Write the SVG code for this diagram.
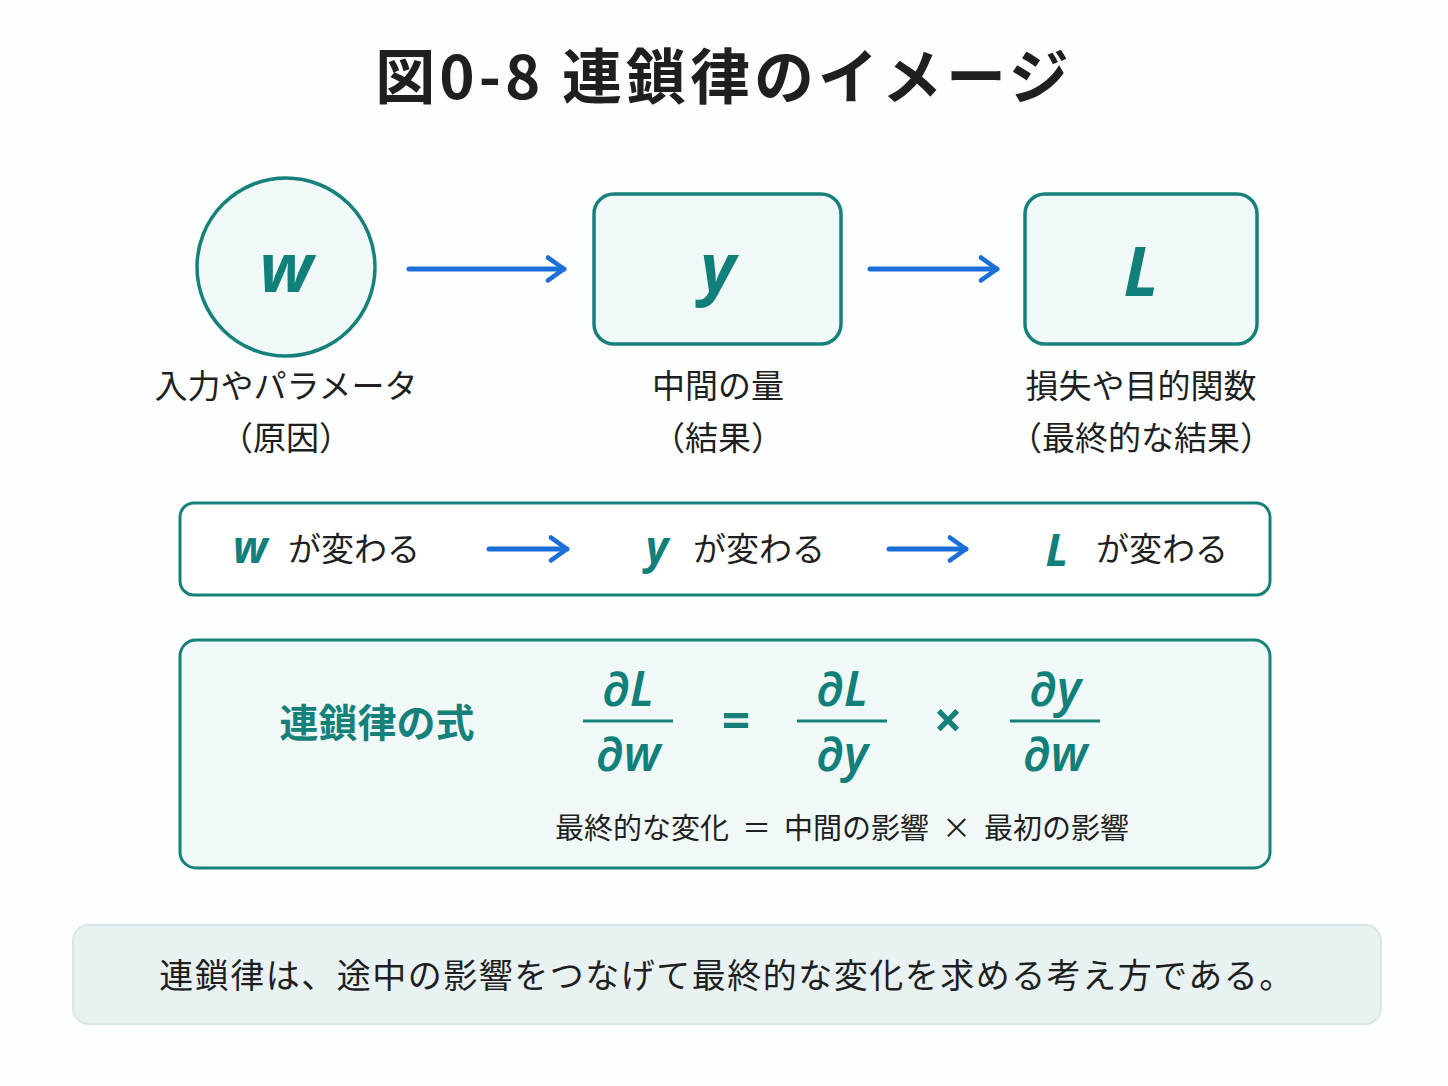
<svg xmlns="http://www.w3.org/2000/svg" width="1448" height="1086" viewBox="0 0 1448 1086">
<style>
.jp{font-family:"Noto Sans CJK JP","Noto Sans",sans-serif;fill:#1f1f1f}
.var{font-family:"Noto Sans","Open Sans",sans-serif;font-style:italic;font-weight:bold;fill:#11807a}
.math{font-family:"Noto Sans","Open Sans",sans-serif;font-style:italic;font-weight:600;fill:#11807a}
.node{fill:#f1f8f8;stroke:#15817a;stroke-width:3.5}
.arr{stroke:#1a6fd8;stroke-width:5;stroke-linecap:round;fill:none}
</style>
<defs>
<marker id="ah" viewBox="0 0 12 12" refX="9" refY="6" markerWidth="5.5" markerHeight="6.5" orient="auto" markerUnits="strokeWidth">
<path d="M2,1 L9,6 L2,11" fill="none" stroke="#1a6fd8" stroke-width="2" stroke-linecap="round" stroke-linejoin="round"/>
</marker>
</defs>
<rect width="1448" height="1086" fill="#fdfefe"/>
<text x="724" y="99" text-anchor="middle" class="jp" font-size="60" font-weight="bold" fill="#111" letter-spacing="4">図0-8 連鎖律のイメージ</text>
<g id="node-w">
<circle cx="286" cy="267" r="89" class="node"/>
<text x="286" y="292" text-anchor="middle" class="var" font-size="68">w</text>
<text x="286" y="398" text-anchor="middle" class="jp" font-size="33">入力やパラメータ</text>
<text x="286" y="450" text-anchor="middle" class="jp" font-size="33">（原因）</text>
</g>
<g id="node-y">
<rect x="594" y="194" width="247" height="150" rx="20" class="node"/>
<text x="718" y="292" text-anchor="middle" class="var" font-size="68">y</text>
<text x="718" y="398" text-anchor="middle" class="jp" font-size="33">中間の量</text>
<text x="718" y="450" text-anchor="middle" class="jp" font-size="33">（結果）</text>
</g>
<g id="node-L">
<rect x="1025" y="194" width="232" height="150" rx="20" class="node"/>
<text x="1141" y="296" text-anchor="middle" class="var" font-size="68">L</text>
<text x="1141" y="398" text-anchor="middle" class="jp" font-size="33">損失や目的関数</text>
<text x="1141" y="450" text-anchor="middle" class="jp" font-size="33">（最終的な結果）</text>
</g>
<g id="flow-box">
<rect x="180" y="503" width="1090" height="92" rx="14" fill="#fff" stroke="#15817a" stroke-width="3"/>
<text x="250" y="563" text-anchor="middle" class="var" font-size="44">w</text>
<text x="288" y="561" class="jp" font-size="33">が変わる</text>
<text x="657" y="563" text-anchor="middle" class="var" font-size="44">y</text>
<text x="693" y="561" class="jp" font-size="33">が変わる</text>
<text x="1057" y="566" text-anchor="middle" class="var" font-size="44">L</text>
<text x="1096" y="561" class="jp" font-size="33">が変わる</text>
</g>
<g id="formula-box">
<rect x="180" y="640" width="1090" height="228" rx="16" fill="#f1f8f8" stroke="#15817a" stroke-width="3"/>
<text x="377" y="737" text-anchor="middle" class="jp" font-size="39" font-weight="bold" style="fill:#15817a">連鎖律の式</text>
<g class="math" font-size="48">
<text x="628" y="706" text-anchor="middle">∂L</text>
<text x="628" y="771" text-anchor="middle">∂w</text>
<text x="842" y="706" text-anchor="middle">∂L</text>
<text x="842" y="771" text-anchor="middle">∂y</text>
<text x="1055" y="706" text-anchor="middle">∂y</text>
<text x="1055" y="771" text-anchor="middle">∂w</text>
</g>
<g stroke="#15817a" stroke-width="3">
<line x1="583" y1="721" x2="673" y2="721"/>
<line x1="797" y1="721" x2="887" y2="721"/>
<line x1="1010" y1="721" x2="1100" y2="721"/>
</g>
<text x="736" y="738" text-anchor="middle" font-family="Noto Sans,sans-serif" font-weight="bold" font-size="50" fill="#15817a">=</text>
<text x="948" y="738" text-anchor="middle" font-family="Noto Sans,sans-serif" font-weight="bold" font-size="50" fill="#15817a">×</text>
<text x="842" y="839" text-anchor="middle" class="jp" font-size="29" xml:space="preserve">最終的な変化  ＝  中間の影響  ×  最初の影響</text>
</g>
<g id="summary">
<rect x="73" y="925" width="1308" height="99" rx="16" fill="#e8f2f2" stroke="#d8e6e6" stroke-width="2"/>
<text x="727" y="988" text-anchor="middle" class="jp" font-size="34" letter-spacing="1.5">連鎖律は、途中の影響をつなげて最終的な変化を求める考え方である。</text>
</g>
<g id="connectors">
<line x1="409" y1="269" x2="564" y2="269" class="arr" marker-end="url(#ah)"/>
<line x1="870" y1="269" x2="997" y2="269" class="arr" marker-end="url(#ah)"/>
<line x1="489" y1="549" x2="567" y2="549" class="arr" marker-end="url(#ah)"/>
<line x1="889" y1="549" x2="966" y2="549" class="arr" marker-end="url(#ah)"/>
</g>
</svg>
